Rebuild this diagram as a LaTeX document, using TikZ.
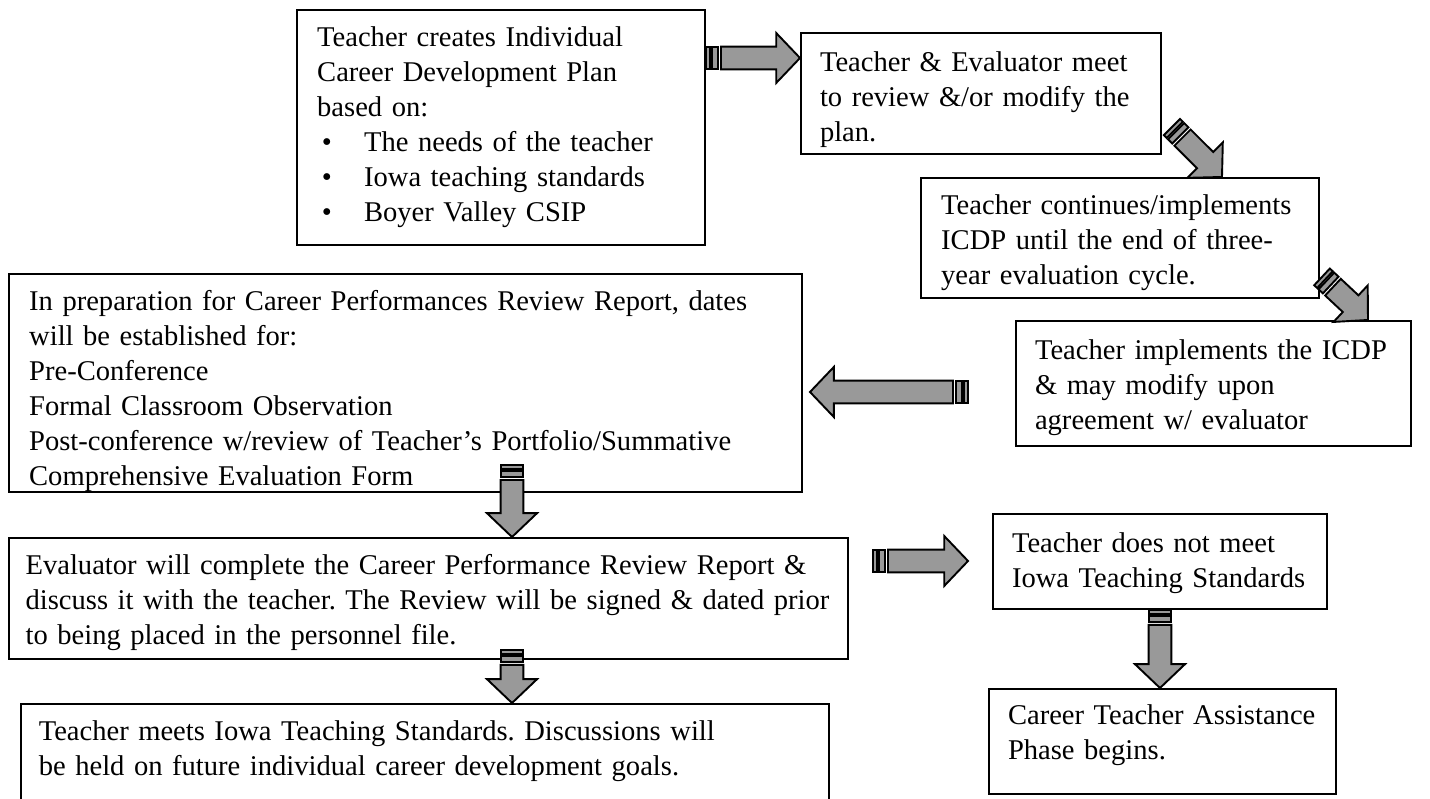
\documentclass[tikz,border=0pt]{standalone}
\usepackage{fontspec}
\setmainfont{Liberation Serif}
\usetikzlibrary{calc}

\definecolor{arrowgray}{RGB}{153,153,153}

% striped block arrow, drawn along +x, length given as a dimension
\tikzset{
  pics/stripearrow/.style={code={
    \filldraw[fill=arrowgray, draw=black, line width=0.8pt] (0pt,-4.8pt) rectangle (1.7pt,4.8pt);
    \filldraw[fill=arrowgray, draw=black, line width=0.8pt] (2.5pt,-4.8pt) rectangle (5pt,4.8pt);
    \filldraw[fill=arrowgray, draw=black, line width=0.8pt, line join=miter]
      (6.3pt,-4.8pt) -- (#1-10pt,-4.8pt) -- (#1-10pt,-10.5pt) -- (#1,0pt)
      -- (#1-10pt,10.5pt) -- (#1-10pt,4.8pt) -- (6.3pt,4.8pt) -- cycle;
  }}
}
\newcommand\stripedarrow[2]{%
  \path let \p1=(#1), \p2=(#2),
    \n1={atan2(\y2-\y1,\x2-\x1)}, \n2={veclen(\x2-\x1,\y2-\y1)} in
    (#1) pic[rotate=\n1] {stripearrow=\n2};}
\newcommand\bulletline[1]{\hspace*{2pt}\makebox[17.7pt][l]{\textbullet}#1}

\begin{document}
\frenchspacing
\begin{tikzpicture}[x=0.42pt, y=-0.42pt,
  box/.style={draw, line width=0.8pt, anchor=north west, align=left,
    inner xsep=8pt, inner ysep=0pt, text height=15.3pt,
    font=\fontsize{12}{14.7}\selectfont}]
  \useasboundingbox (0,0) rectangle (1430,799);

  % Boxes
  \node[box, inner xsep=8.5pt, text width=154.4pt, text depth=83.4pt] (plan) at (296,9)
    {Teacher creates Individual\\ Career Development Plan\\ based on:\\
     \bulletline{The needs of the teacher}\\ \bulletline{Iowa teaching standards}\\
     \bulletline{Boyer Valley CSIP}};
  \node[box, text width=135.2pt, text height=16pt, text depth=34.8pt] (review) at (800,32)
    {Teacher \& Evaluator meet\\ to review \&/or modify the\\ plan.};
  \node[box, inner xsep=8.5pt, text width=150.2pt, text depth=35.1pt] (continues) at (920,177)
    {Teacher continues/implements\\ ICDP until the end of three-\\ year evaluation cycle.};
  \node[box, text width=149.9pt, text height=16pt, text depth=36.5pt] (implement) at (1015,320)
    {Teacher implements the ICDP\\ \& may modify upon\\ agreement w/ evaluator};
  \node[box, inner xsep=8.5pt, text width=316.1pt, text depth=76.3pt] (prep) at (8,273)
    {In preparation for Career Performances Review Report, dates\\
     will be established for:\\ Pre-Conference\\ Formal Classroom Observation\\
     Post-conference w/review of Teacher’s Portfolio/Summative\\
     Comprehensive Evaluation Form};
  \node[box, inner xsep=7pt, text width=338.4pt, text depth=35.5pt] (evaluate) at (8,537)
    {Evaluator will complete the Career Performance Review Report \&\\
     discuss it with the teacher. The Review will be signed \& dated prior\\
     to being placed in the personnel file.};
  \node[box, text width=124.3pt, text height=16pt, text depth=23.9pt] (notmeet) at (992,513)
    {Teacher does not meet\\ Iowa Teaching Standards};
  \node[box, text width=129.7pt, text height=15.1pt, text depth=29pt] (assist) at (988,688)
    {Career Teacher Assistance\\ Phase begins.};
  \node[box, inner xsep=7.5pt, text width=324.4pt, text depth=38pt] (meets) at (20,703)
    {Teacher meets Iowa Teaching Standards. Discussions will\\
     be held on future individual career development goals.};

  % Arrow ends
  \coordinate (ab0) at ($(plan.north east)+(0,49)$);
  \coordinate (ab1) at (review.west |- ab0);
  \coordinate (bc0) at ($(review.north east)+(10,95)$);
  \coordinate (bc1) at ($(continues.north west)+(302,0)$);
  \coordinate (cd0) at ($(continues.south east)+(2,-22)$);
  \coordinate (cd1) at ($(implement.north west)+(353,0)$);
  \coordinate (de0) at ($(implement.north west)+(-47,72)$);
  \coordinate (de1) at ($(prep.east |- de0)+(7,0)$);
  \coordinate (ef0) at ($(prep.south west)+(504,-28)$);
  \coordinate (ef1) at (ef0 |- evaluate.north);
  \coordinate (fg0) at ($(evaluate.north east)+(24,24)$);
  \coordinate (fg1) at ($(notmeet.west |- fg0)+(-24,0)$);
  \coordinate (fi0) at ($(ef0 |- evaluate.south)+(0,-10)$);
  \coordinate (fi1) at (ef0 |- meets.north);
  \coordinate (gh0) at (notmeet.south);
  \coordinate (gh1) at (gh0 |- assist.north);

  % Arrows
  \stripedarrow{ab0}{ab1}
  \stripedarrow{bc0}{bc1}
  \stripedarrow{cd0}{cd1}
  \stripedarrow{de0}{de1}
  \stripedarrow{ef0}{ef1}
  \stripedarrow{fg0}{fg1}
  \stripedarrow{fi0}{fi1}
  \stripedarrow{gh0}{gh1}
\end{tikzpicture}
\end{document}
